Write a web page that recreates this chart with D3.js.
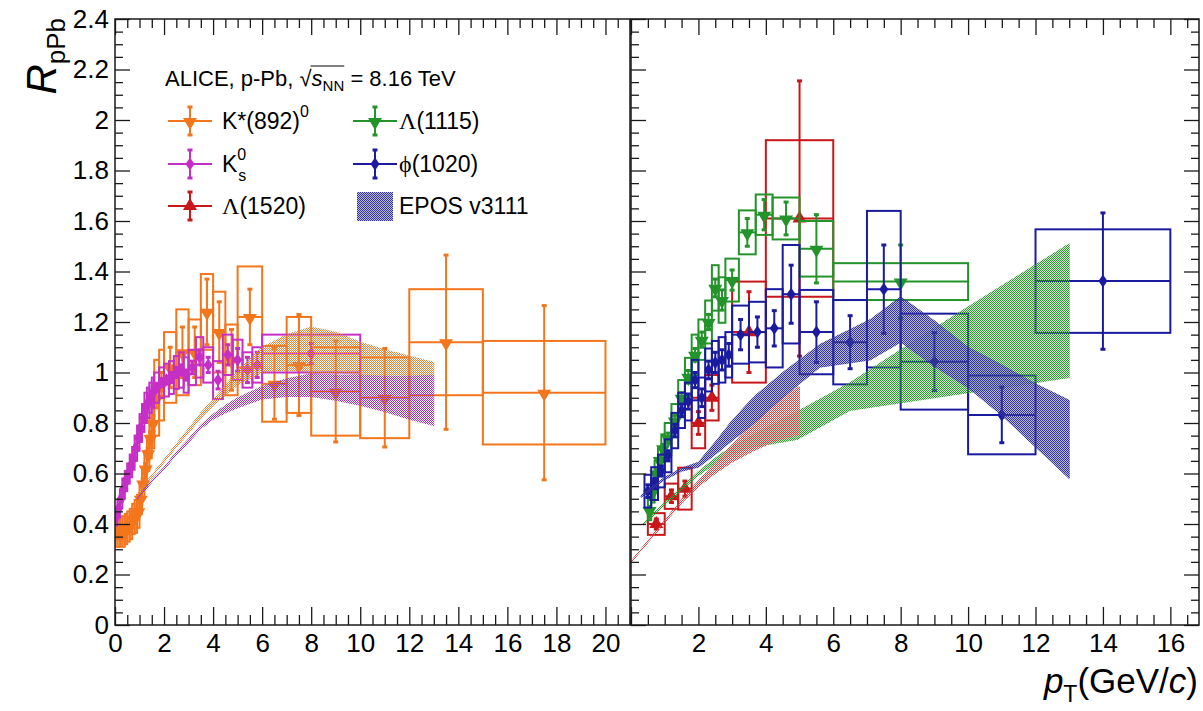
<!DOCTYPE html>
<html>
<head>
<meta charset="utf-8">
<script src="https://cdn.jsdelivr.net/npm/d3@7"></script>
<style>
  body { margin: 0; background: #fff; }
  text { font-family: "Liberation Sans", Arial, Helvetica, sans-serif; fill: #000; }
</style>
</head>
<body>
<svg id="chart" width="1203" height="711"></svg>
<script>
// ---- Data: each row is [pT low, pT high, R_pPb, stat. unc., syst. unc.] ----
const kstar = [
  [0.0, 0.1, 0.37, 0.015, 0.06], [0.1, 0.2, 0.37, 0.015, 0.06], [0.2, 0.3, 0.37, 0.015, 0.06],
  [0.3, 0.4, 0.37, 0.015, 0.06], [0.4, 0.5, 0.38, 0.015, 0.06], [0.5, 0.6, 0.39, 0.015, 0.06],
  [0.6, 0.7, 0.40, 0.015, 0.06], [0.7, 0.8, 0.42, 0.015, 0.06], [0.8, 0.9, 0.43, 0.015, 0.065],
  [0.9, 1.0, 0.45, 0.015, 0.065], [1.0, 1.1, 0.50, 0.02, 0.06], [1.1, 1.2, 0.56, 0.02, 0.06],
  [1.2, 1.3, 0.62, 0.02, 0.07], [1.3, 1.4, 0.68, 0.02, 0.07], [1.4, 1.5, 0.74, 0.025, 0.08],
  [1.5, 1.6, 0.80, 0.03, 0.10], [1.6, 1.8, 0.90, 0.04, 0.15], [1.8, 2.0, 0.95, 0.05, 0.14],
  [2.0, 2.5, 1.02, 0.08, 0.14], [2.5, 3.0, 1.08, 0.10, 0.17], [3.0, 3.5, 1.08, 0.10, 0.13],
  [3.5, 4.0, 1.24, 0.13, 0.15], [4.0, 4.5, 1.16, 0.12, 0.16], [4.5, 5.0, 1.05, 0.12, 0.14],
  [5.0, 6.0, 1.22, 0.11, 0.20], [6.0, 7.0, 0.955, 0.14, 0.15], [7.0, 8.0, 1.03, 0.20, 0.19],
  [8.0, 10.0, 0.925, 0.20, 0.175], [10.0, 12.0, 0.90, 0.195, 0.16], [12.0, 15.0, 1.12, 0.345, 0.21],
  [15.0, 20.0, 0.92, 0.345, 0.205]
];
const k0s = [
  [0.0, 0.1, 0.43, 0.01, 0.035], [0.1, 0.2, 0.46, 0.01, 0.035], [0.2, 0.3, 0.50, 0.01, 0.035],
  [0.3, 0.4, 0.54, 0.01, 0.04], [0.4, 0.5, 0.57, 0.01, 0.04], [0.5, 0.6, 0.60, 0.01, 0.04],
  [0.6, 0.7, 0.63, 0.01, 0.045], [0.7, 0.8, 0.66, 0.01, 0.045], [0.8, 0.9, 0.70, 0.01, 0.05],
  [0.9, 1.0, 0.74, 0.01, 0.05], [1.0, 1.1, 0.78, 0.01, 0.055], [1.1, 1.2, 0.82, 0.01, 0.055],
  [1.2, 1.3, 0.86, 0.01, 0.06], [1.3, 1.4, 0.88, 0.01, 0.06], [1.4, 1.5, 0.90, 0.01, 0.06],
  [1.5, 1.6, 0.92, 0.01, 0.06], [1.6, 1.8, 0.94, 0.015, 0.06], [1.8, 2.0, 0.96, 0.015, 0.06],
  [2.0, 2.2, 0.97, 0.015, 0.065], [2.2, 2.4, 0.98, 0.02, 0.065], [2.4, 2.6, 1.00, 0.02, 0.065],
  [2.6, 2.8, 1.01, 0.02, 0.07], [2.8, 3.0, 0.99, 0.02, 0.07], [3.0, 3.3, 1.02, 0.025, 0.07],
  [3.3, 3.6, 1.06, 0.03, 0.08], [3.6, 4.0, 1.03, 0.03, 0.07], [4.0, 4.4, 0.97, 0.035, 0.075],
  [4.4, 4.8, 1.07, 0.04, 0.08], [4.8, 5.2, 1.05, 0.045, 0.08], [5.2, 5.6, 1.01, 0.05, 0.07],
  [5.6, 6.0, 1.03, 0.05, 0.07], [6.0, 10.0, 1.075, 0.04, 0.075]
];
const lambda1115 = [
  [0.5, 0.6, 0.455, 0.015, 0.04], [0.6, 0.7, 0.53, 0.015, 0.045], [0.7, 0.8, 0.60, 0.015, 0.05],
  [0.8, 0.9, 0.653, 0.015, 0.05], [0.9, 1.0, 0.70, 0.015, 0.055], [1.0, 1.2, 0.74, 0.02, 0.06],
  [1.2, 1.4, 0.81, 0.02, 0.065], [1.4, 1.6, 0.90, 0.02, 0.07], [1.6, 1.8, 0.983, 0.025, 0.075],
  [1.8, 2.0, 1.07, 0.025, 0.08], [2.0, 2.2, 1.13, 0.03, 0.08], [2.2, 2.4, 1.20, 0.03, 0.085],
  [2.4, 2.6, 1.335, 0.035, 0.09], [2.6, 2.8, 1.287, 0.04, 0.09], [2.8, 3.2, 1.366, 0.04, 0.085],
  [3.2, 3.7, 1.555, 0.055, 0.087], [3.7, 4.2, 1.625, 0.06, 0.08], [4.2, 5.0, 1.61, 0.065, 0.083],
  [5.0, 6.0, 1.49, 0.135, 0.11], [6.0, 10.0, 1.36, 0.145, 0.073]
];
const phi1020 = [
  [0.4, 0.6, 0.53, 0.025, 0.065], [0.6, 0.8, 0.56, 0.02, 0.065], [0.8, 1.0, 0.61, 0.02, 0.065],
  [1.0, 1.2, 0.67, 0.02, 0.065], [1.2, 1.4, 0.77, 0.025, 0.07], [1.4, 1.6, 0.85, 0.025, 0.07],
  [1.6, 1.8, 0.885, 0.03, 0.075], [1.8, 2.0, 0.97, 0.03, 0.08], [2.0, 2.2, 0.90, 0.035, 0.08],
  [2.2, 2.4, 1.01, 0.035, 0.085], [2.4, 2.6, 1.04, 0.04, 0.085], [2.6, 2.8, 1.05, 0.04, 0.09],
  [2.8, 3.0, 1.07, 0.045, 0.09], [3.0, 3.5, 1.15, 0.06, 0.115], [3.5, 4.0, 1.16, 0.06, 0.12],
  [4.0, 4.5, 1.175, 0.07, 0.155], [4.5, 5.0, 1.31, 0.115, 0.195], [5.0, 6.0, 1.16, 0.12, 0.167],
  [6.0, 7.0, 1.12, 0.105, 0.167], [7.0, 8.0, 1.33, 0.175, 0.31], [8.0, 10.0, 1.043, 0.115, 0.19],
  [10.0, 12.0, 0.832, 0.11, 0.156], [12.0, 16.0, 1.362, 0.27, 0.205]
];
const lambda1520 = [
  [0.5, 1.0, 0.40, 0.02, 0.043], [1.0, 1.4, 0.51, 0.025, 0.05], [1.4, 1.8, 0.54, 0.03, 0.083],
  [1.8, 2.2, 0.80, 0.045, 0.10], [2.2, 2.6, 0.90, 0.05, 0.09], [3.0, 4.0, 1.16, 0.16, 0.20],
  [4.0, 6.0, 1.61, 0.545, 0.31]
];

// ---- EPOS v3111 predictions: [pT, central R_pPb, half band width] ----
const eposKstar = [
  [1.0, 0.53, 0.004], [1.5, 0.59, 0.005], [2.0, 0.65, 0.006], [2.5, 0.71, 0.007], [3.0, 0.77, 0.009],
  [3.5, 0.83, 0.011], [4.0, 0.88, 0.014], [4.5, 0.93, 0.02], [5.0, 0.98, 0.03], [6.0, 1.05, 0.05],
  [7.0, 1.08, 0.07], [8.0, 1.09, 0.09], [9.0, 1.08, 0.08], [10.0, 1.055, 0.065], [11.0, 1.03, 0.06],
  [12.0, 1.005, 0.06], [13.0, 0.98, 0.06]
];
const eposK0s = [
  [0.9, 0.50, 0.004], [1.5, 0.57, 0.005], [2.0, 0.62, 0.005], [2.5, 0.68, 0.006], [3.0, 0.73, 0.007],
  [3.5, 0.785, 0.008], [4.0, 0.825, 0.01], [4.5, 0.855, 0.015], [5.0, 0.88, 0.02], [6.0, 0.92, 0.025],
  [7.0, 0.94, 0.035], [8.0, 0.95, 0.045], [9.0, 0.94, 0.05], [10.0, 0.93, 0.06], [11.0, 0.915, 0.07],
  [12.0, 0.90, 0.085], [13.0, 0.89, 0.10]
];
const eposPhi = [
  [0.3, 0.51, 0.004], [0.7, 0.55, 0.005], [1.0, 0.58, 0.005], [1.5, 0.615, 0.006], [2.0, 0.635, 0.01],
  [2.5, 0.70, 0.025], [3.0, 0.77, 0.04], [3.64, 0.85, 0.053], [4.5, 0.95, 0.05], [5.6, 1.066, 0.045],
  [7.1, 1.13, 0.08], [8.0, 1.21, 0.09], [9.0, 1.115, 0.09], [10.0, 1.02, 0.08], [11.0, 0.93, 0.10],
  [12.0, 0.83, 0.125], [13.0, 0.735, 0.155]
];
const eposLambda1115 = [
  [0.37, 0.40, 0.003], [1.0, 0.48, 0.005], [2.0, 0.60, 0.008], [2.65, 0.665, 0.012], [3.44, 0.72, 0.02],
  [4.93, 0.79, 0.055], [6.5, 0.905, 0.055], [8.0, 0.985, 0.105], [10.0, 1.09, 0.17], [13.0, 1.245, 0.265]
];
const eposLambda1520 = [
  [0.0, 0.25, 0.003], [0.5, 0.33, 0.004], [1.0, 0.41, 0.005], [1.5, 0.49, 0.007], [2.0, 0.56, 0.012],
  [2.5, 0.62, 0.02], [3.0, 0.68, 0.035], [3.64, 0.75, 0.06], [4.3, 0.81, 0.08], [5.0, 0.85, 0.095]
];

// ---- Axis ticks ----
const yTicks = d3.range(0, 2.401, 0.2);
const yMinor = d3.range(0, 2.401, 0.05);
const xTicksLeft = d3.range(0, 20.01, 2);
const xTicksRight = d3.range(2, 16.01, 2);

const COL = {
  kstar: "#f4761c", k0s: "#c62fc6", l1115: "#23942a", phi: "#1b1ba0", l1520: "#c8161a"
};

const svg = d3.select("#chart");
const defs = svg.append("defs");

// Dense pixel hatch used for the model bands
function hatch(id, color, base) {
  const p = defs.append("pattern").attr("id", id).attr("width", 2).attr("height", 2)
    .attr("patternUnits", "userSpaceOnUse");
  p.append("rect").attr("width", 2).attr("height", 2).attr("fill", color).attr("opacity", base);
  p.append("rect").attr("width", 1).attr("height", 1).attr("fill", color);
  p.append("rect").attr("x", 1).attr("y", 1).attr("width", 1).attr("height", 1).attr("fill", color);
}
hatch("h-kstar", "#e0843a", 0.0);
hatch("h-k0s", "#9c3ab0", 0.08);
hatch("h-phi", "#34349a", 0.35);
hatch("h-l1115", "#2f972f", 0.2);
hatch("h-l1520", "#d04444", 0.08);

const plotTop = 19, plotBottom = 625;
const y = d3.scaleLinear().domain([0, 2.4]).range([plotBottom, plotTop]);
const xL = d3.scaleLinear().domain([0, 21]).range([115, 630]);
const xR = d3.scaleLinear().domain([0, 16.85]).range([631, 1199]);

function clip(id, x) {
  defs.append("clipPath").attr("id", id).append("rect")
    .attr("x", x.range()[0]).attr("y", plotTop)
    .attr("width", x.range()[1] - x.range()[0]).attr("height", plotBottom - plotTop);
}
clip("clipL", xL);
clip("clipR", xR);

const markerPath = {
  down: d3.symbol(d3.symbolTriangle, 85)(),
  up: d3.symbol(d3.symbolTriangle, 85)(),
  diamond: "M0,-6.5L4.5,0L0,6.5L-4.5,0Z"
};
function markerTransform(shape, cx, cy) {
  return shape === "down" ? `translate(${cx},${cy + 1}) rotate(180)` : `translate(${cx},${cy})`;
}

function drawBoxes(g, x, data, color) {
  g.append("g").selectAll("rect").data(data).join("rect")
    .attr("x", d => x(d[0])).attr("width", d => x(d[1]) - x(d[0]))
    .attr("y", d => y(d[2] + d[4])).attr("height", d => y(d[2] - d[4]) - y(d[2] + d[4]))
    .attr("fill", "none").attr("stroke", color).attr("stroke-width", 2);
}
function drawPoints(g, x, data, color, shape) {
  const s = g.append("g").attr("stroke", color).attr("stroke-width", 2);
  s.selectAll("line.xe").data(data).join("line").attr("class", "xe")
    .attr("x1", d => x(d[0])).attr("x2", d => x(d[1]))
    .attr("y1", d => y(d[2])).attr("y2", d => y(d[2]));
  s.selectAll("line.ye").data(data).join("line").attr("class", "ye")
    .attr("x1", d => x((d[0] + d[1]) / 2)).attr("x2", d => x((d[0] + d[1]) / 2))
    .attr("y1", d => y(d[2] - d[3])).attr("y2", d => y(d[2] + d[3]));
  ["lo", "hi"].forEach(k => {
    s.selectAll("line.c" + k).data(data).join("line").attr("class", "c" + k)
      .attr("x1", d => x((d[0] + d[1]) / 2) - 2.5).attr("x2", d => x((d[0] + d[1]) / 2) + 2.5)
      .attr("y1", d => y(k === "lo" ? d[2] - d[3] : d[2] + d[3]))
      .attr("y2", d => y(k === "lo" ? d[2] - d[3] : d[2] + d[3]))
      .attr("stroke-width", 3);
  });
  g.append("g").selectAll("path").data(data).join("path")
    .attr("d", markerPath[shape]).attr("fill", color)
    .attr("transform", d => markerTransform(shape, x((d[0] + d[1]) / 2), y(d[2])));
}
function drawBand(g, x, data, fillId) {
  const area = d3.area().x(d => x(d[0])).y0(d => y(d[1] - d[2])).y1(d => y(d[1] + d[2]));
  g.append("path").datum(data).attr("d", area)
    .attr("fill", `url(#${fillId})`).attr("stroke", `url(#${fillId})`).attr("stroke-width", 1);
}

// ---- Left panel: K*(892)0 and K0s ----
const gL = svg.append("g").attr("clip-path", "url(#clipL)");
drawBoxes(gL, xL, kstar, COL.kstar);
drawPoints(gL, xL, kstar, COL.kstar, "down");
drawBoxes(gL, xL, k0s, COL.k0s);
drawPoints(gL, xL, k0s, COL.k0s, "diamond");
drawBand(gL, xL, eposKstar, "h-kstar");
drawBand(gL, xL, eposK0s, "h-k0s");

// ---- Right panel: Lambda(1520), Lambda(1115), phi(1020) ----
const gR = svg.append("g").attr("clip-path", "url(#clipR)");
drawBoxes(gR, xR, lambda1520, COL.l1520);
drawPoints(gR, xR, lambda1520, COL.l1520, "up");
drawBoxes(gR, xR, lambda1115, COL.l1115);
drawPoints(gR, xR, lambda1115, COL.l1115, "down");
drawBoxes(gR, xR, phi1020, COL.phi);
drawPoints(gR, xR, phi1020, COL.phi, "diamond");
drawBand(gR, xR, eposLambda1115, "h-l1115");
drawBand(gR, xR, eposLambda1520, "h-l1520");
drawBand(gR, xR, eposPhi, "h-phi");

// ---- Axes ----
const fmt = d => d3.format("~g")(+d.toFixed(2));
function styleAxis(g) {
  g.select(".domain").remove();
  g.selectAll(".tick line").attr("stroke", "#1a1a1a").attr("stroke-width", 1.3);
  g.selectAll("text").attr("font-size", 26).attr("fill", "#000")
    .style("font-family", "'Liberation Sans', Arial, sans-serif");
}
function xAxes(x, labels) {
  const minors = d3.range(0, x.domain()[1] + 1e-9, 0.5).filter(v => Math.abs(v / 2 - Math.round(v / 2)) > 1e-6);
  const allMaj = d3.range(0, x.domain()[1] + 1e-9, 2);
  svg.append("g").attr("transform", `translate(0,${plotBottom})`)
    .call(d3.axisBottom(x).tickValues(allMaj).tickSize(-18).tickSizeOuter(0).tickPadding(9)
      .tickFormat(d => labels.includes(d) ? fmt(d) : ""))
    .call(styleAxis);
  svg.append("g").attr("transform", `translate(0,${plotBottom})`)
    .call(d3.axisBottom(x).tickValues(minors).tickSize(-10).tickSizeOuter(0).tickFormat(""))
    .call(styleAxis);
  svg.append("g").attr("transform", `translate(0,${plotTop})`)
    .call(d3.axisTop(x).tickValues(allMaj).tickSize(-16).tickSizeOuter(0).tickFormat(""))
    .call(styleAxis);
  svg.append("g").attr("transform", `translate(0,${plotTop})`)
    .call(d3.axisTop(x).tickValues(minors).tickSize(-9).tickSizeOuter(0).tickFormat(""))
    .call(styleAxis);
}
xAxes(xL, xTicksLeft);
xAxes(xR, xTicksRight);

const yMinorOnly = yMinor.filter(v => !yTicks.some(t => Math.abs(t - v) < 1e-6));
function yAxis(xpos, side, labelled) {
  const ax = side === "left" ? d3.axisLeft(y) : d3.axisRight(y);
  svg.append("g").attr("transform", `translate(${xpos},0)`)
    .call(ax.tickValues(yTicks).tickSize(-15).tickSizeOuter(0).tickPadding(6)
      .tickFormat(labelled ? fmt : ""))
    .call(styleAxis);
  const ax2 = side === "left" ? d3.axisLeft(y) : d3.axisRight(y);
  svg.append("g").attr("transform", `translate(${xpos},0)`)
    .call(ax2.tickValues(yMinorOnly).tickSize(-8).tickSizeOuter(0).tickFormat(""))
    .call(styleAxis);
}
yAxis(115, "left", true);
yAxis(631, "left", false);
yAxis(1199, "right", false);

// Frames
[xL, xR].forEach(x => {
  svg.append("rect").attr("x", x.range()[0]).attr("y", plotTop)
    .attr("width", x.range()[1] - x.range()[0]).attr("height", plotBottom - plotTop)
    .attr("fill", "none").attr("stroke", "#1a1a1a").attr("stroke-width", 1.5);
});

// ---- Axis titles ----
const yTitle = svg.append("text").attr("transform", "translate(56,18) rotate(-90)")
  .attr("text-anchor", "end");
yTitle.append("tspan").text("R").attr("font-size", 42).attr("font-style", "italic");
yTitle.append("tspan").text("pPb").attr("font-size", 26).attr("dy", 9);

const xTitle = svg.append("text").attr("x", 1198).attr("y", 693).attr("text-anchor", "end")
  .attr("font-size", 35);
xTitle.append("tspan").text("p").attr("font-style", "italic");
xTitle.append("tspan").text("T").attr("font-size", 23).attr("dy", 9);
xTitle.append("tspan").text("(GeV/").attr("dy", -9);
xTitle.append("tspan").text("c").attr("font-style", "italic");
xTitle.append("tspan").text(")");

// ---- Legend ----
const leg = svg.append("g");
const hdr = leg.append("text").attr("x", 165).attr("y", 86).attr("font-size", 22);
hdr.append("tspan").text("ALICE, p-Pb, ");
hdr.append("tspan").text("\u221A");
hdr.append("tspan").text("s").attr("font-style", "italic");
hdr.append("tspan").text("NN").attr("font-size", 15).attr("dy", 5);
hdr.append("tspan").text(" = 8.16 TeV").attr("dy", -5);
{
  const node = hdr.node();
  const full = node.textContent;
  const i0 = full.indexOf("\u221A");
  const iEnd = full.indexOf("NN") + 1;
  const xs = node.getEndPositionOfChar(i0).x - 1;
  const xe = node.getEndPositionOfChar(iEnd).x;
  leg.append("line").attr("x1", xs).attr("x2", xe).attr("y1", 66).attr("y2", 66)
    .attr("stroke", "#000").attr("stroke-width", 1.2);
}

const SERIF = "'Liberation Serif', 'DejaVu Serif', serif";
const legendItems = [
  { col: 0, row: 0, color: COL.kstar, shape: "down", label: [["K*(892)", {}], ["0", { sup: true }]] },
  { col: 1, row: 0, color: COL.l1115, shape: "down", label: [["\u039B", { serif: true }], ["(1115)", {}]] },
  { col: 0, row: 1, color: COL.k0s, shape: "diamond", label: [["K", {}], ["0", { sup: true }], ["s", { subAfterSup: true }]] },
  { col: 1, row: 1, color: COL.phi, shape: "diamond", label: [["\u03D5", { serif: true }], ["(1020)", {}]] },
  { col: 0, row: 2, color: COL.l1520, shape: "up", label: [["\u039B", { serif: true }], ["(1520)", {}]] },
  { col: 1, row: 2, band: "h-phi", label: [["EPOS v3111", {}]] }
];
const rowY = [121, 164, 206];
const colX = [190, 375];
const textX = [222, 399];
legendItems.forEach(it => {
  const cx = colX[it.col], cy = rowY[it.row];
  if (it.band) {
    leg.append("rect").attr("x", cx - 18).attr("y", cy - 14).attr("width", 36).attr("height", 29)
      .attr("fill", `url(#${it.band})`);
  } else {
    const s = leg.append("g").attr("stroke", it.color).attr("stroke-width", 2);
    s.append("line").attr("x1", cx - 22).attr("x2", cx + 22).attr("y1", cy).attr("y2", cy);
    s.append("line").attr("x1", cx).attr("x2", cx).attr("y1", cy - 14).attr("y2", cy + 14);
    s.append("line").attr("x1", cx - 2.5).attr("x2", cx + 2.5).attr("y1", cy - 14).attr("y2", cy - 14).attr("stroke-width", 3);
    s.append("line").attr("x1", cx - 2.5).attr("x2", cx + 2.5).attr("y1", cy + 14).attr("y2", cy + 14).attr("stroke-width", 3);
    leg.append("path").attr("d", markerPath[it.shape]).attr("fill", it.color)
      .attr("transform", markerTransform(it.shape, cx, cy));
  }
  const t = leg.append("text").attr("x", textX[it.col]).attr("y", cy + 8).attr("font-size", 23);
  it.label.forEach(([str, o]) => {
    if (o.sup) {
      t.append("tspan").text(str).attr("font-size", 16).attr("dy", -12);
    } else if (o.subAfterSup) {
      const n = t.node();
      const kEnd = n.getEndPositionOfChar(0).x;
      t.append("tspan").text(str).attr("font-size", 16).attr("x", kEnd + 1).attr("dy", 21);
    } else if (o.serif) {
      t.append("tspan").text(str).style("font-family", SERIF).attr("font-size", 24);
    } else {
      t.append("tspan").text(str);
    }
  });
});
</script>
</body>
</html>
